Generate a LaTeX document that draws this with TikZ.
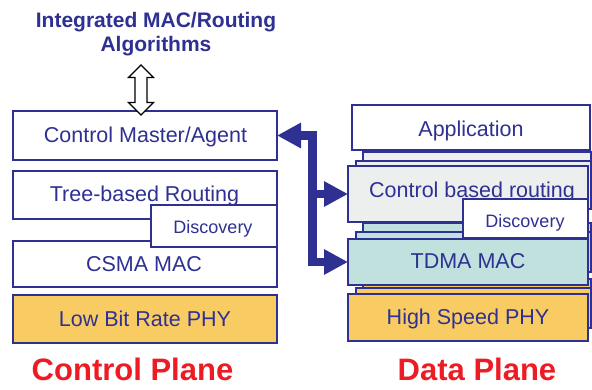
\documentclass[tikz,border=0pt]{standalone}
\usepackage{fontspec}
\setmainfont{Liberation Sans}
\usetikzlibrary{arrows.meta}
\definecolor{dblue}{RGB}{46,49,146}
\definecolor{phyorange}{RGB}{249,203,99}
\definecolor{cbrgray}{RGB}{237,239,238}
\definecolor{tdmateal}{RGB}{193,225,222}
\definecolor{pred}{RGB}{237,28,36}
\begin{document}
\begin{tikzpicture}[x=1pt,y=-1pt,
  >={Triangle[length=24pt,width=24pt]},
  box/.style={draw=dblue,line width=1.5pt,anchor=north west,inner sep=0pt,outer sep=0pt},
  lbl/.style={text=dblue,font=\fontsize{21.5}{24}\selectfont,anchor=base,inner sep=0pt},
  slbl/.style={text=dblue,font=\fontsize{18}{20}\selectfont,anchor=base,inner sep=0pt},
  ttl/.style={text=dblue,font=\fontsize{21}{24}\selectfont\bfseries,anchor=base,inner sep=0pt},
  plane/.style={text=pred,font=\fontsize{31}{34}\selectfont\bfseries,anchor=base,inner sep=0pt},
  bus/.style={draw=dblue,line width=8.5pt,line join=miter},
  hollow/.style={draw=black,fill=white,line width=1.2pt,line join=miter}]
\clip (0,0) rectangle (592,389);
\fill[white] (0,0) rectangle (592,389);
% ---- title ----
\node[ttl] (title1) at (156,27) {Integrated MAC/Routing};
\node[ttl] (title2) at (156,51) {Algorithms};
% ---- left stack ----
\node[box,fill=white,minimum width=264pt,minimum height=49pt] (cm) at (13,111) {};
\node[box,fill=white,minimum width=264pt,minimum height=48pt] (tree) at (13,171) {};
\node[box,fill=white,minimum width=264pt,minimum height=46pt] (csma) at (13,241) {};
\node[box,fill=white,minimum width=126pt,minimum height=42pt] (ldisc) at (151,205) {};
\node[box,fill=phyorange,minimum width=264pt,minimum height=48pt] (lphy) at (13,295) {};
\node[lbl] at (145.5,142) {Control Master/Agent};
\node[lbl] at (144.5,201) {Tree-based Routing};
\node[slbl] at (213,233) {Discovery};
\node[lbl] at (144,271) {CSMA MAC};
\node[lbl] at (145,326) {Low Bit Rate PHY};
\node[plane] at (132.5,380) {Control Plane};
% ---- hollow double arrow ----
\coordinate (da) at (141,90);
\draw[hollow,shift={(da)}] (0,-25) -- (12.5,-12.5) -- (6,-12.5) -- (6,12.5) -- (12.5,12.5)
  -- (0,25) -- (-12.5,12.5) -- (-6,12.5) -- (-6,-12.5) -- (-12.5,-12.5) -- cycle;
% ---- right stack ----
\node[box,fill=white,minimum width=238pt,minimum height=45pt] (app) at (352,105) {};
\node[box,fill=cbrgray,minimum width=228pt,minimum height=48pt] (cbrA) at (363,152) {};
\node[box,fill=cbrgray,minimum width=235pt,minimum height=48pt] (cbrB) at (356,161) {};
\node[box,fill=cbrgray,minimum width=240pt,minimum height=56pt] (cbr) at (348,166) {};
\node[box,fill=tdmateal,minimum width=228pt,minimum height=40pt] (tdmaA) at (363,223) {};
\node[box,fill=tdmateal,minimum width=235pt,minimum height=40pt] (tdmaB) at (356,232) {};
\node[box,fill=phyorange,minimum width=228pt,minimum height=40pt] (phyA) at (363,279) {};
\node[box,fill=phyorange,minimum width=235pt,minimum height=40pt] (phyB) at (356,288) {};
\node[lbl] at (471,136) {Application};
\node[lbl] at (472,197) {Control based routing};
\node[box,fill=white,minimum width=125pt,minimum height=39pt] (rdisc) at (463,199) {};
\node[slbl] at (525,227) {Discovery};
\node[box,fill=tdmateal,minimum width=240pt,minimum height=46pt] (tdma) at (348,239) {};
\node[lbl] at (468,268) {TDMA MAC};
\node[box,fill=phyorange,minimum width=240pt,minimum height=47pt] (phy) at (348,294) {};
\node[lbl] at (468,324) {High Speed PHY};
\node[plane] at (477,380) {Data Plane};
% ---- thick control connector ----
\coordinate (bx) at (312.5,0);
\draw[bus,<->] (cm.east) -| (tdma.west -| bx) -- (tdma.west);
\draw[bus,->] (cbr.west -| bx) -- (cbr.west);
\end{tikzpicture}
\end{document}
